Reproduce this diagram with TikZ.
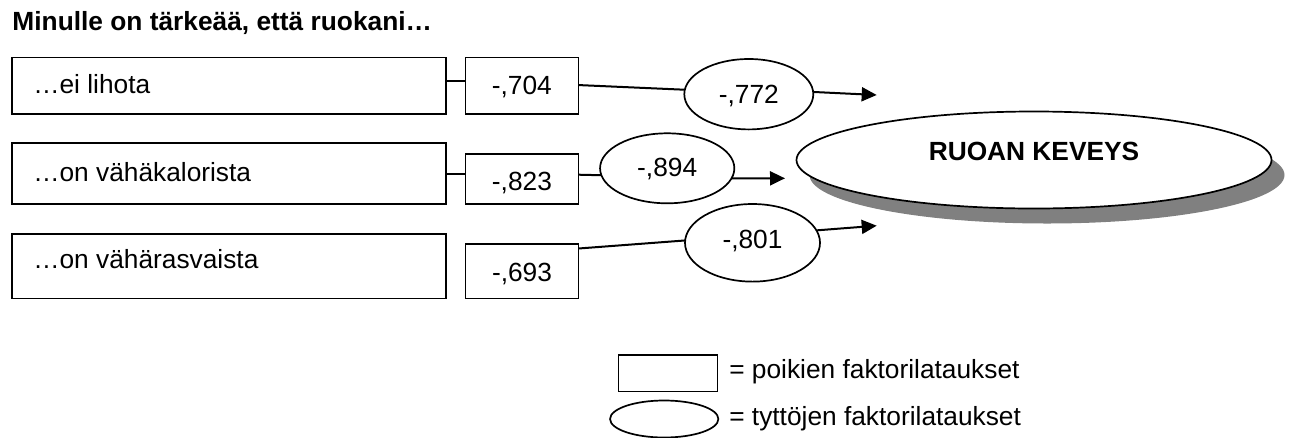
\documentclass[tikz,border=0pt]{standalone}
\usepackage{fontspec}
\setmainfont{Liberation Sans}
\usetikzlibrary{shapes.geometric,arrows.meta,shadows}
\definecolor{shadowgray}{RGB}{128,128,128}
\begin{document}
\begin{tikzpicture}[x=1pt,y=-1pt,
  every node/.style={font=\fontsize{26.3}{31}\selectfont, inner sep=0pt, outer sep=0pt},
  itembox/.style={draw, line width=1.3pt, minimum width=434pt},
  valbox/.style={draw, line width=1.3pt, minimum width=113pt, text height=18.8pt, text depth=0pt},
  oval/.style={draw, ellipse, line width=1.7pt, text height=18.8pt, text depth=0pt},
  conn/.style={line width=2pt},
  arr/.style={line width=2pt, -{Triangle[length=15pt,width=14pt]}},
  itemtext/.style={anchor=base west},
]
\useasboundingbox (0,0) rectangle (1289,437);

% title
\node[anchor=base west, font=\fontsize{26.3}{31}\selectfont\bfseries] (title) at (12.5,30) {Minulle on tärkeää, että ruokani…};

% item boxes (boys' loadings side)
\node[itembox, minimum height=56.5pt] (b1) at (229,85.75) {};
\node[itembox, minimum height=61pt] (b2) at (229,173.5) {};
\node[itembox, minimum height=64.3pt] (b3) at (229,266.2) {};
\node[itemtext] (t1) at (33.3,93.3) {…ei lihota};
\node[itemtext] (t2) at (33.3,181.7) {…on vähäkalorista};
\node[itemtext] (t3) at (33.3,268.3) {…on vähärasvaista};

% value boxes
\node[valbox, minimum height=56.3pt, text height=17.1pt] (v1) at (521.8,85.85) {-,704};
\node[valbox, minimum height=50pt, text height=22.8pt] (v2) at (521.9,179) {-,823};
\node[valbox, minimum height=54.3pt, text height=21.4pt] (v3) at (522,271.2) {-,693};

% girls' ellipses
\node[oval, minimum width=129pt, minimum height=70.4pt] (e1) at (748.8,94.2) {-,772};
\node[oval, minimum width=134.3pt, minimum height=70pt, text height=15.6pt] (e2) at (667.2,168.3) {-,894};
\node[oval, minimum width=135pt, minimum height=77.6pt, text height=11.2pt] (e3) at (752.5,242.8) {-,801};

% factor
\node[draw, ellipse, fill=white, line width=1.7pt, minimum width=475pt, minimum height=97pt,
      text height=19pt, text depth=19pt, font=\fontsize{26.3}{31}\selectfont\bfseries,
      drop shadow={shadow xshift=13pt, shadow yshift=-15pt, fill=shadowgray, opacity=1, draw=none}]
      (big) at (1034,160) {RUOAN KEVEYS};

% arrow tip points
\coordinate (a1) at (876.7,95);
\coordinate (a2) at (785,178.3);
\coordinate (a3) at (876.7,225.7);

% connectors
\draw[conn] ([yshift=4.5pt]b1.east) -- ([yshift=4.5pt]b1.east -| v1.west);
\draw[conn] (b2.east) -- (b2.east -| v2.west);
\draw[conn] ([yshift=0.8pt]v1.east) -- (e1.176);
\draw[conn] ([yshift=4.3pt]v2.east) -- (e2.186);
\draw[conn] ([yshift=22.7pt]v3.east) -- (e3.178);
\draw[arr] (e1.2) -- (a1);
\draw[arr] (e2.351) -- (a2);
\draw[arr] (e3.11) -- (a3);

% legend
\node[draw, line width=1.3pt, minimum width=99pt, minimum height=36.7pt] (lr) at (667.8,373.3) {};
\node[draw, ellipse, line width=1.7pt, minimum width=108.3pt, minimum height=37pt] (le) at (664.2,419) {};
\node[anchor=base west] (lt1) at (729.3,378.3) {= poikien faktorilataukset};
\node[anchor=base west] (lt2) at (729.3,425) {= tyttöjen faktorilataukset};
\end{tikzpicture}
\end{document}
